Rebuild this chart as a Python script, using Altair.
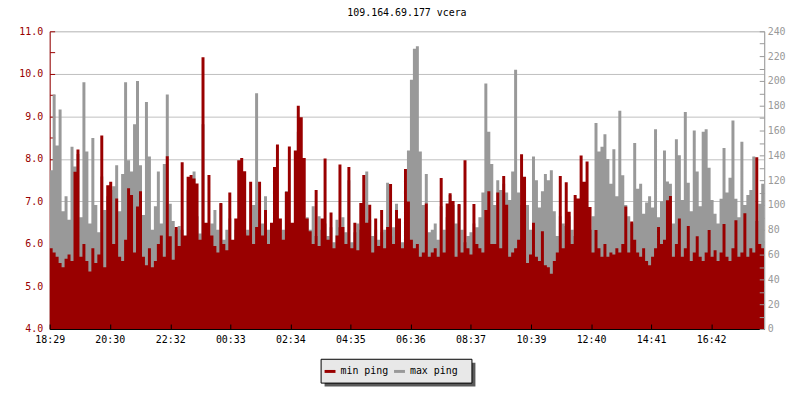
import altair as alt
import pandas as pd

title_text = "109.164.69.177 vcera"
tick_minutes = [0, 121, 243, 364, 485, 606, 727, 848, 970, 1091, 1212, 1333]
tick_labels = ["18:29", "20:30", "22:32", "00:33", "02:34", "04:35",
               "06:36", "08:37", "10:39", "12:40", "14:41", "16:42"]
series_names = ["min ping", "max ping"]
step_minutes = 6

min_ping = [
    5.90, 5.80, 5.70, 5.55, 5.45, 5.65, 5.75, 5.60, 7.70, 8.22,
    5.70, 6.00, 5.60, 5.35, 5.90, 5.55, 5.75, 8.55, 5.45, 7.38,
    7.46, 6.00, 7.07, 5.70, 5.60, 6.10, 7.31, 7.15, 5.80, 6.88,
    7.24, 5.70, 5.50, 5.90, 5.45, 5.60, 6.00, 6.20, 5.70, 8.06,
    6.18, 5.63, 6.40, 5.95, 7.92, 6.20, 7.58, 7.62, 7.54, 7.42,
    6.10, 10.39, 6.50, 7.62, 6.20, 5.95, 5.80, 6.96, 6.00, 5.85,
    7.21, 6.10, 6.60, 7.97, 8.02, 7.71, 6.20, 7.46, 6.00, 6.40,
    7.46, 6.20, 6.80, 6.00, 6.50, 7.81, 8.34, 6.60, 6.10, 7.23,
    8.29, 6.50, 8.20, 9.25, 8.98, 8.02, 6.60, 6.30, 6.00, 7.27,
    5.95, 6.60, 8.01, 6.10, 6.74, 5.90, 6.20, 7.87, 6.40, 6.00,
    7.81, 5.90, 6.50, 5.85, 6.96, 7.62, 6.50, 6.92, 5.80, 6.60,
    5.95, 6.80, 5.90, 6.40, 7.41, 6.00, 6.80, 6.60, 5.90, 7.76,
    7.00, 6.10, 5.90, 6.00, 5.70, 5.80, 6.95, 5.70, 5.80, 5.90,
    5.70, 7.55, 5.80, 6.95, 7.19, 7.01, 5.70, 6.94, 5.80, 7.97,
    5.90, 5.75, 6.94, 6.00, 5.90, 5.80, 6.80, 7.24, 6.00, 6.00,
    7.21, 5.90, 7.60, 6.92, 5.70, 5.80, 5.90, 6.10, 8.11, 7.58,
    5.55, 5.75, 6.50, 5.70, 5.60, 6.30, 5.50, 5.45, 5.30, 5.60,
    5.80, 7.60, 5.90, 7.45, 6.76, 6.00, 7.15, 7.07, 8.08, 7.46,
    7.94, 6.87, 5.80, 6.33, 5.90, 5.70, 6.00, 5.70, 5.80, 5.75,
    5.90, 5.80, 6.00, 6.88, 5.80, 6.53, 6.10, 5.80, 5.70, 5.90,
    5.60, 5.50, 5.70, 5.90, 6.40, 6.00, 6.10, 7.03, 7.13, 5.70,
    6.00, 6.60, 5.70, 5.90, 6.42, 5.60, 5.80, 6.18, 5.70, 5.60,
    5.80, 6.33, 5.70, 5.85, 5.60, 5.80, 6.47, 5.70, 5.60, 5.90,
    6.56, 5.70, 5.80, 6.72, 5.70, 5.90, 5.80, 8.04, 6.00, 5.90,
]

max_ping = [
    128, 189, 148, 177, 95, 107, 88, 147, 131, 141,
    90, 199, 143, 85, 154, 100, 78, 123, 96, 107,
    112, 115, 132, 95, 125, 199, 136, 127, 165, 200,
    132, 92, 183, 139, 80, 99, 127, 85, 133, 189,
    101, 87, 80, 83, 80, 75, 112, 93, 127, 91,
    77, 165, 83, 75, 85, 96, 80, 101, 72, 80,
    89, 69, 80, 69, 75, 77, 80, 67, 100, 190,
    96, 85, 107, 80, 69, 77, 64, 69, 80, 111,
    80, 72, 83, 159, 121, 85, 90, 80, 99, 75,
    91, 80, 85, 75, 82, 70, 88, 82, 90, 78,
    120, 70, 78, 85, 80, 82, 127, 88, 75, 80,
    72, 78, 80, 118, 75, 82, 101, 78, 70, 101,
    144, 201, 226, 228, 143, 100, 125, 78, 80, 85,
    72, 99, 80, 90, 108, 100, 85, 100, 80, 70,
    75, 78, 85, 82, 90, 110, 198, 159, 133, 100,
    120, 112, 117, 110, 104, 127, 209, 110, 100, 115,
    100, 80, 139, 120, 98, 111, 125, 120, 128, 95,
    75, 91, 85, 83, 91, 80, 75, 96, 91, 85,
    87, 80, 91, 166, 143, 147, 157, 137, 117, 145,
    107, 176, 124, 100, 91, 85, 150, 113, 117, 93,
    102, 107, 98, 161, 90, 103, 144, 119, 117, 85,
    153, 140, 104, 175, 118, 95, 160, 127, 99, 159,
    161, 130, 104, 93, 85, 105, 146, 110, 122, 168,
    105, 90, 151, 100, 108, 112, 139, 87, 101, 117,
]

assert len(min_ping) == len(max_ping)
n = len(min_ping)
df = pd.DataFrame({
    "t": [i * step_minutes for i in range(n)] + [n * step_minutes],
    "min": min_ping + [min_ping[-1]],
    "max": max_ping + [max_ping[-1]],
})

FONT = "DejaVu Sans Mono"
RED = "#990000"
GRAY = "#999999"

label_expr = "".join(f"datum.value === {m} ? '{l}' : " for m, l in zip(tick_minutes, tick_labels)) + "''"

x_enc = alt.X(
    "t:Q",
    scale=alt.Scale(domain=[0, n * step_minutes], nice=False, zero=False),
    axis=alt.Axis(values=tick_minutes, labelExpr=label_expr, title=None, grid=False,
                  domainColor="black", tickColor="black", labelColor="black",
                  tickSize=alt.ExprRef(expr="-5"), labelPadding=11, zindex=1,
                  labelFlush=False, labelOverlap=False, labelFont=FONT, labelFontSize=10),
)

color_enc = alt.Color(
    "series:N",
    scale=alt.Scale(domain=series_names, range=[RED, GRAY]),
    legend=alt.Legend(
        title=None, orient="none", legendX=277, legendY=337, direction="horizontal",
        padding=0,
        symbolType="M-1,-0.27H1V0.27H-1Z", symbolSize=121, symbolStrokeWidth=0,
        symbolOpacity=1, labelFont=FONT, labelFontSize=10, labelColor="#000000",
        labelOffset=5, columnPadding=5,
    ),
)

left_axis = alt.Axis(
    orient="left", values=[4 + 0.5 * i for i in range(15)],
    labelExpr="datum.value % 1 === 0 ? format(datum.value, '.1f') : ''",
    title=None, grid=True, gridColor="#c0c0c0",
    gridOpacity=alt.condition("datum.value % 1 !== 0", alt.value(0), alt.value(1)),
    domainColor=RED, tickColor=RED, labelColor=RED,
    tickSize=alt.ExprRef(expr="-5"), labelPadding=12, zindex=0,
    labelFont=FONT, labelFontSize=10, labelFlush=False, labelOverlap=False,
)

right_axis = alt.Axis(
    orient="right", values=list(range(0, 241, 10)),
    labelExpr="datum.value % 20 === 0 ? datum.label : ''",
    title=None, grid=False,
    domainColor=GRAY, tickColor=GRAY, labelColor=GRAY,
    tickSize=alt.ExprRef(expr="-5"), labelPadding=8, zindex=1,
    labelFont=FONT, labelFontSize=10, labelFlush=False, labelOverlap=False,
)

gray = alt.Chart(df).transform_calculate(series=f"'{series_names[1]}'").mark_area(
    interpolate="step-after", opacity=1, clip=True).encode(
    x=x_enc,
    y=alt.Y("max:Q", scale=alt.Scale(domain=[0, 240], nice=False, zero=False), axis=right_axis),
    y2=alt.Y2Datum(0),
    color=color_enc,
)

red = alt.Chart(df).transform_calculate(series=f"'{series_names[0]}'").mark_area(
    interpolate="step-after", opacity=1, clip=True).encode(
    x=x_enc,
    y=alt.Y("min:Q", scale=alt.Scale(domain=[4, 11], nice=False, zero=False), axis=left_axis),
    y2=alt.Y2Datum(4),
    color=color_enc,
)

legend_frame = pd.DataFrame({"k": [0]})
shadow = alt.Chart(legend_frame).mark_rect(color="#5a5a5a").encode(
    x=alt.value(277), x2=alt.value(429), y=alt.value(334), y2=alt.value(358)
)
box = alt.Chart(legend_frame).mark_rect(fill="#e8e8e8", stroke="black", strokeWidth=1).encode(
    x=alt.value(273.5), x2=alt.value(425.5), y=alt.value(330.5), y2=alt.value(354.5)
)

chart = alt.layer(shadow, box, gray, red).resolve_scale(y="independent").properties(
    width=720, height=300,
    title=alt.TitleParams(title_text, font=FONT, fontSize=10, fontWeight="normal",
                          color="black", anchor="middle", frame="group",
                          baseline="alphabetic", offset=0),
    autosize=alt.AutoSizeParams(type="none"),
    padding={"left": 42, "top": 22, "right": 28, "bottom": 62},
).configure_view(strokeWidth=0).configure(background="white")

chart.save("out.html", embed_options={"renderer": "svg", "actions": False})
